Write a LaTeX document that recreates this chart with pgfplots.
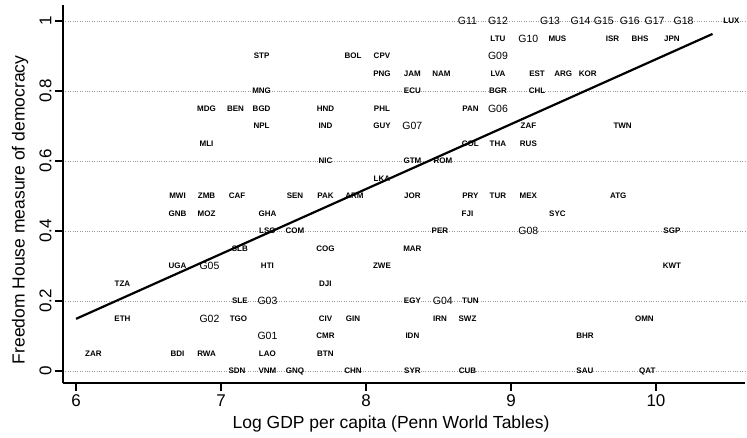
\documentclass[border=0pt]{standalone}
\usepackage{pgfplots}
\pgfplotsset{compat=1.18}
\usepackage{fontspec}
\setmainfont{Liberation Sans}
\setsansfont{Liberation Sans}
\pgfplotstableread{
x y lab
8.91 0.95 LTU
9.32 0.95 MUS
9.70 0.95 ISR
9.89 0.95 BHS
10.11 0.95 JPN
10.52 1.00 LUX
7.28 0.90 STP
7.91 0.90 BOL
8.11 0.90 CPV
8.11 0.85 PNG
8.32 0.85 JAM
8.52 0.85 NAM
8.91 0.85 LVA
9.18 0.85 EST
9.36 0.85 ARG
9.53 0.85 KOR
7.28 0.80 MNG
8.32 0.80 ECU
8.91 0.80 BGR
9.18 0.80 CHL
6.90 0.75 MDG
7.10 0.75 BEN
7.28 0.75 BGD
7.72 0.75 HND
8.11 0.75 PHL
8.72 0.75 PAN
7.28 0.70 NPL
7.72 0.70 IND
8.11 0.70 GUY
9.12 0.70 ZAF
9.77 0.70 TWN
6.90 0.65 MLI
8.72 0.65 COL
8.91 0.65 THA
9.12 0.65 RUS
7.72 0.60 NIC
8.32 0.60 GTM
8.53 0.60 ROM
8.11 0.55 LKA
6.70 0.50 MWI
6.90 0.50 ZMB
7.11 0.50 CAF
7.51 0.50 SEN
7.72 0.50 PAK
7.92 0.50 ARM
8.32 0.50 JOR
8.72 0.50 PRY
8.91 0.50 TUR
9.12 0.50 MEX
9.74 0.50 ATG
6.70 0.45 GNB
6.90 0.45 MOZ
7.32 0.45 GHA
8.70 0.45 FJI
9.32 0.45 SYC
7.32 0.40 LSO
7.51 0.40 COM
8.51 0.40 PER
10.11 0.40 SGP
7.13 0.35 SLB
7.72 0.35 COG
8.32 0.35 MAR
6.70 0.30 UGA
7.32 0.30 HTI
8.11 0.30 ZWE
10.11 0.30 KWT
6.32 0.25 TZA
7.72 0.25 DJI
7.13 0.20 SLE
8.32 0.20 EGY
8.72 0.20 TUN
6.32 0.15 ETH
7.12 0.15 TGO
7.72 0.15 CIV
7.91 0.15 GIN
8.51 0.15 IRN
8.70 0.15 SWZ
9.92 0.15 OMN
7.72 0.10 CMR
8.32 0.10 IDN
9.51 0.10 BHR
6.12 0.05 ZAR
6.70 0.05 BDI
6.90 0.05 RWA
7.32 0.05 LAO
7.72 0.05 BTN
7.11 0.00 SDN
7.32 0.00 VNM
7.51 0.00 GNQ
7.91 0.00 CHN
8.32 0.00 SYR
8.70 0.00 CUB
9.51 0.00 SAU
9.94 0.00 QAT
}\codes
\pgfplotstableread{
x y lab
7.32 0.10 G01
6.92 0.15 G02
7.32 0.20 G03
8.53 0.20 G04
6.92 0.30 G05
8.91 0.75 G06
8.32 0.70 G07
9.12 0.40 G08
8.91 0.90 G09
9.12 0.95 G10
8.70 1.00 G11
8.91 1.00 G12
9.27 1.00 G13
9.48 1.00 G14
9.64 1.00 G15
9.82 1.00 G16
9.99 1.00 G17
10.19 1.00 G18
}\groups
\begin{document}
\begin{tikzpicture}
\path[use as bounding box] (0,0) rectangle (747pt,438pt);
\begin{axis}[
  at={(63pt,55pt)}, anchor=south west,
  scale only axis, width=682pt, height=378pt,
  xmin=5.910, xmax=10.614, ymin=-0.0343, ymax=1.0457,
  axis x line*=bottom, axis y line*=left,
  axis line style={line width=2pt, -},
  xtick={6,7,8,9,10}, ytick={0,0.2,0.4,0.6,0.8,1},
  yticklabels={0,0.2,0.4,0.6,0.8,1},
  tick align=outside, major tick length=8pt,
  tick style={line width=1.6pt, black},
  tick label style={font=\fontsize{17}{20}\selectfont},
  yticklabel style={rotate=90, anchor=south},
  /pgf/number format/assume math mode=true,
  ymajorgrids, grid style={dotted, gray!80, line width=0.6pt},
  xlabel={Log GDP per capita (Penn World Tables)},
  ylabel={Freedom House measure of democracy},
  label style={font=\fontsize{17.5}{20}\selectfont},
  xlabel style={at={(axis description cs:0.481,-0.108)}, anchor=center},
  ylabel style={at={(axis description cs:-0.063,0.458)}, anchor=center, rotate=0},
  clip=false,
]
\addplot[black, line width=2.2pt] coordinates {(6.0,0.149) (10.39,0.963)};
\addplot[draw=none, mark=none, nodes near coords, point meta=explicit symbolic,
  nodes near coords style={anchor=center, inner sep=0pt, text height=5.7pt, text depth=0pt,
    font=\bfseries\fontsize{8}{9}\selectfont}]
  table[x=x, y=y, meta=lab] {\codes};
\addplot[draw=none, mark=none, nodes near coords, point meta=explicit symbolic,
  nodes near coords style={anchor=center, inner sep=0pt, text height=7.6pt, text depth=0pt,
    font=\fontsize{10.5}{12}\selectfont}]
  table[x=x, y=y, meta=lab] {\groups};
\end{axis}
\end{tikzpicture}
\end{document}
